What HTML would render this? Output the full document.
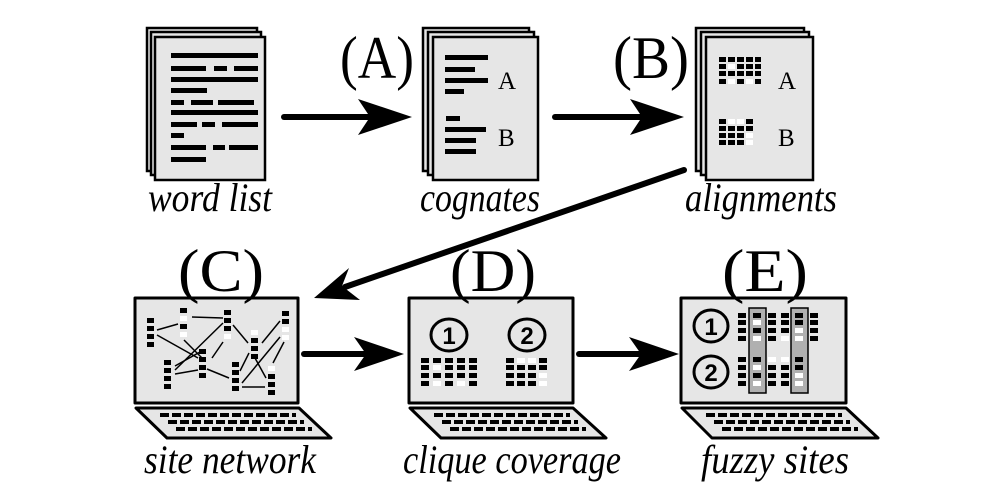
<!DOCTYPE html>
<html><head><meta charset="utf-8"><style>
html,body{margin:0;padding:0;background:#fff;}
svg{display:block;}
text{font-family:"Liberation Serif",serif;}
.lab{font-style:italic;font-size:40px;}
.big{font-size:60px;}
</style></head><body>
<svg width="995" height="486" viewBox="0 0 995 486" xmlns="http://www.w3.org/2000/svg">
<g stroke="#000" stroke-width="2.5" fill="#e6e6e6">
<rect x="147" y="28" width="110" height="143"/><rect x="151" y="32" width="110" height="143"/><rect x="155" y="37" width="110" height="143"/>
<rect x="423" y="28" width="106" height="143"/><rect x="428" y="32" width="106" height="143"/><rect x="433" y="37" width="105" height="143"/>
<rect x="696" y="28" width="108" height="143"/><rect x="701" y="32" width="108" height="143"/><rect x="706" y="37" width="107" height="143"/>
</g>
<g fill="#000">
<rect x="171" y="53" width="87" height="5"/>
<rect x="171" y="66" width="35" height="5"/><rect x="214" y="66" width="13" height="5"/><rect x="234" y="66" width="24" height="5"/>
<rect x="171" y="77" width="87" height="5"/>
<rect x="171" y="88" width="36" height="5"/>
<rect x="171" y="100" width="13" height="5"/><rect x="191" y="100" width="22" height="5"/><rect x="218" y="100" width="36" height="5"/>
<rect x="171" y="110" width="87" height="5"/>
<rect x="171" y="122" width="26" height="5"/><rect x="202" y="122" width="13" height="5"/><rect x="222" y="122" width="36" height="5"/>
<rect x="171" y="133" width="13" height="5"/>
<rect x="171" y="145" width="35" height="5"/><rect x="213" y="145" width="12" height="5"/><rect x="229" y="145" width="29" height="5"/>
<rect x="171" y="157" width="35" height="5"/>
<rect x="445" y="55" width="43" height="5"/><rect x="445" y="67" width="30" height="5"/><rect x="445" y="78" width="43" height="5"/><rect x="445" y="89" width="19" height="5"/>
<rect x="446" y="116" width="14" height="5"/><rect x="445" y="127" width="41" height="5"/><rect x="445" y="138" width="31" height="5"/><rect x="445" y="149" width="31" height="5"/>
</g>
<text x="498" y="89" font-size="25">A</text>
<text x="498" y="146" font-size="25">B</text>
<g fill="#000">
<rect x="719" y="57" width="7" height="5"/><rect x="728" y="57" width="7" height="5"/><rect x="737" y="57" width="7" height="5"/><rect x="746" y="57" width="7" height="5"/><rect x="755" y="57" width="6" height="5"/>
<rect x="719" y="64" width="7" height="5"/><rect x="728" y="64" width="7" height="5" fill="#fff"/><rect x="737" y="64" width="7" height="5"/><rect x="746" y="64" width="7" height="5"/><rect x="755" y="64" width="6" height="5"/>
<rect x="719" y="71" width="7" height="5"/><rect x="728" y="71" width="7" height="5"/><rect x="737" y="71" width="7" height="5"/><rect x="746" y="71" width="7" height="5"/><rect x="755" y="71" width="6" height="5"/>
<rect x="719" y="79" width="7" height="5"/><rect x="728" y="79" width="7" height="5" fill="#fff"/><rect x="737" y="79" width="7" height="5"/><rect x="746" y="79" width="7" height="5" fill="#fff"/><rect x="755" y="79" width="6" height="5"/>
<rect x="719" y="119" width="7" height="5"/><rect x="728" y="119" width="7" height="5" fill="#fff"/><rect x="737" y="119" width="7" height="5" fill="#fff"/><rect x="746" y="119" width="7" height="5"/>
<rect x="719" y="126" width="7" height="5"/><rect x="728" y="126" width="7" height="5"/><rect x="737" y="126" width="7" height="5"/><rect x="746" y="126" width="7" height="5"/>
<rect x="719" y="133" width="7" height="5"/><rect x="728" y="133" width="7" height="5"/><rect x="737" y="133" width="7" height="5"/><rect x="746" y="133" width="7" height="5" fill="#fff"/>
<rect x="719" y="140" width="7" height="5"/><rect x="728" y="140" width="7" height="5"/><rect x="737" y="140" width="7" height="5"/><rect x="746" y="140" width="7" height="5" fill="#fff"/>
</g>
<text x="778" y="89" font-size="25">A</text>
<text x="778" y="146" font-size="25">B</text>
<text class="lab" x="210" y="211" text-anchor="middle" textLength="124" lengthAdjust="spacingAndGlyphs">word list</text>
<text class="lab" x="480" y="211" text-anchor="middle" textLength="120" lengthAdjust="spacingAndGlyphs">cognates</text>
<text class="lab" x="761" y="211" text-anchor="middle" textLength="152" lengthAdjust="spacingAndGlyphs">alignments</text>
<text class="big" x="377" y="78" text-anchor="middle" textLength="74" lengthAdjust="spacingAndGlyphs">(A)</text>
<text class="big" x="651" y="78" text-anchor="middle" textLength="76" lengthAdjust="spacingAndGlyphs">(B)</text>
<g stroke="#000" stroke-width="6" stroke-linecap="round">
<line x1="284" y1="117" x2="372" y2="117"/>
<line x1="555" y1="117" x2="645" y2="117"/>
<line x1="684" y1="170" x2="345" y2="287"/>
<line x1="304" y1="354" x2="368" y2="354"/>
<line x1="579" y1="354" x2="642" y2="354"/>
</g>
<g fill="#000">
<polygon points="412,117 358,99 370,117 358,135"/>
<polygon points="684,117 630,99 642,117 630,135"/>
<polygon points="314,298 349,268 342,286 360,300"/>
<polygon points="404,354 354,337 366,354 354,371"/>
<polygon points="679,354 629,337 641,354 629,371"/>
</g>
<g stroke="#000" stroke-width="3" fill="#e6e6e6" stroke-linejoin="round">
<rect x="135" y="298" width="163" height="105"/>
<polygon points="136,408 299,408 331,438 167,438"/>
<rect x="409" y="298" width="164" height="105"/>
<polygon points="410,408 573,408 606,438 441,438"/>
<rect x="681" y="298" width="165" height="105"/>
<polygon points="682,408 846,408 878,438 712,438"/>
</g>
<g stroke="#000" stroke-width="4" stroke-dasharray="9 3">
<line x1="160" y1="415" x2="296" y2="415"/><line x1="168" y1="422" x2="304" y2="422"/><line x1="176" y1="429" x2="312" y2="429"/>
<line x1="434" y1="415" x2="570" y2="415"/><line x1="442" y1="422" x2="578" y2="422"/><line x1="450" y1="429" x2="586" y2="429"/>
<line x1="706" y1="415" x2="842" y2="415"/><line x1="714" y1="422" x2="850" y2="422"/><line x1="722" y1="429" x2="858" y2="429"/>
</g>
<g stroke="#000" stroke-width="1.5">
<line x1="157" y1="330" x2="178" y2="324"/><line x1="192" y1="317" x2="223" y2="318"/>
<line x1="157" y1="335" x2="198" y2="358"/><line x1="175" y1="370" x2="223" y2="323"/>
<line x1="175" y1="374" x2="198" y2="370"/><line x1="184" y1="340" x2="202" y2="358"/>
<line x1="175" y1="366" x2="200" y2="352"/><line x1="212" y1="358" x2="223" y2="342"/>
<line x1="207" y1="369" x2="229" y2="378"/><line x1="233" y1="325" x2="248" y2="343"/>
<line x1="240" y1="371" x2="249" y2="353"/><line x1="262" y1="343" x2="280" y2="321"/>
<line x1="242" y1="383" x2="280" y2="337"/><line x1="242" y1="387" x2="265" y2="387"/>
<line x1="255" y1="358" x2="266" y2="378"/><line x1="273" y1="363" x2="284" y2="342"/>
</g>
<g fill="#000">
<rect x="147" y="318" width="7" height="5"/><rect x="147" y="326" width="7" height="5"/><rect x="147" y="334" width="7" height="5"/><rect x="147" y="342" width="7" height="5"/>
<rect x="180" y="308" width="7" height="5"/><rect x="180" y="316" width="7" height="5" fill="#fff"/><rect x="180" y="324" width="7" height="5"/><rect x="180" y="332" width="7" height="5" fill="#fff"/>
<rect x="164" y="360" width="7" height="5"/><rect x="164" y="368" width="7" height="5"/><rect x="164" y="376" width="7" height="5"/><rect x="164" y="384" width="7" height="5"/>
<rect x="199" y="349" width="7" height="5"/><rect x="199" y="357" width="7" height="5"/><rect x="199" y="365" width="7" height="5"/><rect x="199" y="373" width="7" height="5"/>
<rect x="224" y="310" width="7" height="5"/><rect x="224" y="318" width="7" height="5"/><rect x="224" y="326" width="7" height="5"/><rect x="224" y="334" width="7" height="5" fill="#fff"/>
<rect x="251" y="330" width="7" height="5" fill="#fff"/><rect x="251" y="338" width="7" height="5"/><rect x="251" y="346" width="7" height="5"/><rect x="251" y="354" width="7" height="5"/>
<rect x="232" y="362" width="7" height="5"/><rect x="232" y="370" width="7" height="5"/><rect x="232" y="378" width="7" height="5"/><rect x="232" y="386" width="7" height="5"/>
<rect x="282" y="311" width="7" height="5"/><rect x="282" y="319" width="7" height="5"/><rect x="282" y="327" width="7" height="5" fill="#fff"/><rect x="282" y="335" width="7" height="5" fill="#fff"/>
<rect x="268" y="366" width="7" height="5" fill="#fff"/><rect x="268" y="374" width="7" height="5"/><rect x="268" y="382" width="7" height="5"/><rect x="268" y="390" width="7" height="5"/>
</g>
<g stroke="#000" stroke-width="3" fill="none">
<ellipse cx="449" cy="335" rx="18" ry="16"/><ellipse cx="527" cy="335" rx="18" ry="16"/>
<ellipse cx="711" cy="326" rx="17" ry="16"/><ellipse cx="711" cy="372" rx="17" ry="16"/>
</g>
<g font-weight="bold" font-size="24" text-anchor="middle">
<text x="449" y="344" style="font-family:'Liberation Sans',sans-serif">1</text>
<text x="527" y="344" style="font-family:'Liberation Sans',sans-serif">2</text>
<text x="711" y="335" style="font-family:'Liberation Sans',sans-serif">1</text>
<text x="711" y="381" style="font-family:'Liberation Sans',sans-serif">2</text>
</g>
<g fill="#000">
<rect x="421" y="358" width="8" height="5"/><rect x="433" y="358" width="8" height="5"/><rect x="445" y="358" width="8" height="5"/><rect x="457" y="358" width="8" height="5"/><rect x="469" y="358" width="8" height="5"/>
<rect x="421" y="365" width="8" height="5"/><rect x="433" y="365" width="8" height="5" fill="#fff"/><rect x="445" y="365" width="8" height="5"/><rect x="457" y="365" width="8" height="5"/><rect x="469" y="365" width="8" height="5"/>
<rect x="421" y="373" width="8" height="5"/><rect x="433" y="373" width="8" height="5"/><rect x="445" y="373" width="8" height="5"/><rect x="457" y="373" width="8" height="5"/><rect x="469" y="373" width="8" height="5"/>
<rect x="421" y="381" width="8" height="5"/><rect x="433" y="381" width="8" height="5" fill="#fff"/><rect x="445" y="381" width="8" height="5"/><rect x="457" y="381" width="8" height="5" fill="#fff"/><rect x="469" y="381" width="8" height="5"/>
<rect x="506" y="358" width="8" height="5"/><rect x="517" y="358" width="8" height="5" fill="#fff"/><rect x="528" y="358" width="8" height="5" fill="#fff"/><rect x="539" y="358" width="8" height="5"/>
<rect x="506" y="365" width="8" height="5"/><rect x="517" y="365" width="8" height="5"/><rect x="528" y="365" width="8" height="5"/><rect x="539" y="365" width="8" height="5"/>
<rect x="506" y="373" width="8" height="5"/><rect x="517" y="373" width="8" height="5"/><rect x="528" y="373" width="8" height="5"/><rect x="539" y="373" width="8" height="5" fill="#fff"/>
<rect x="506" y="381" width="8" height="5"/><rect x="517" y="381" width="8" height="5"/><rect x="528" y="381" width="8" height="5"/><rect x="539" y="381" width="8" height="5" fill="#fff"/>
</g>
<g stroke="#000" stroke-width="1.5" fill="#b0b0b0">
<rect x="749" y="308" width="17" height="85"/><rect x="791" y="308" width="17" height="85"/>
</g>
<g fill="#000">
<rect x="738" y="313" width="8" height="5"/><rect x="738" y="320" width="8" height="5"/><rect x="738" y="328" width="8" height="5"/><rect x="738" y="336" width="8" height="5"/>
<rect x="753" y="313" width="8" height="5"/><rect x="753" y="320" width="8" height="5" fill="#fff"/><rect x="753" y="328" width="8" height="5"/><rect x="753" y="336" width="8" height="5" fill="#fff"/>
<rect x="768" y="313" width="8" height="5"/><rect x="768" y="320" width="8" height="5"/><rect x="768" y="328" width="8" height="5"/><rect x="768" y="336" width="8" height="5"/>
<rect x="781" y="313" width="8" height="5"/><rect x="781" y="320" width="8" height="5"/><rect x="781" y="328" width="8" height="5"/><rect x="781" y="336" width="8" height="5" fill="#fff"/>
<rect x="795" y="313" width="8" height="5"/><rect x="795" y="320" width="8" height="5"/><rect x="795" y="328" width="8" height="5" fill="#fff"/><rect x="795" y="336" width="8" height="5" fill="#fff"/>
<rect x="810" y="313" width="8" height="5"/><rect x="810" y="320" width="8" height="5"/><rect x="810" y="328" width="8" height="5"/><rect x="810" y="336" width="8" height="5"/>
<rect x="738" y="357" width="8" height="5"/><rect x="738" y="365" width="8" height="5"/><rect x="738" y="373" width="8" height="5"/><rect x="738" y="381" width="8" height="5"/>
<rect x="753" y="357" width="8" height="5"/><rect x="753" y="365" width="8" height="5" fill="#fff"/><rect x="753" y="373" width="8" height="5"/><rect x="753" y="381" width="8" height="5" fill="#fff"/>
<rect x="768" y="357" width="8" height="5" fill="#fff"/><rect x="768" y="365" width="8" height="5"/><rect x="768" y="373" width="8" height="5"/><rect x="768" y="381" width="8" height="5"/>
<rect x="781" y="357" width="8" height="5" fill="#fff"/><rect x="781" y="365" width="8" height="5"/><rect x="781" y="373" width="8" height="5"/><rect x="781" y="381" width="8" height="5"/>
<rect x="795" y="357" width="8" height="5"/><rect x="795" y="365" width="8" height="5"/><rect x="795" y="373" width="8" height="5" fill="#fff"/><rect x="795" y="381" width="8" height="5" fill="#fff"/>
</g>
<text class="big" x="221" y="291" text-anchor="middle" textLength="86" lengthAdjust="spacingAndGlyphs">(C)</text>
<text class="big" x="493" y="291" text-anchor="middle" textLength="86" lengthAdjust="spacingAndGlyphs">(D)</text>
<text class="big" x="765" y="291" text-anchor="middle" textLength="86" lengthAdjust="spacingAndGlyphs">(E)</text>
<text class="lab" x="230" y="473" text-anchor="middle" textLength="172" lengthAdjust="spacingAndGlyphs">site network</text>
<text class="lab" x="512" y="473" text-anchor="middle" textLength="218" lengthAdjust="spacingAndGlyphs">clique coverage</text>
<text class="lab" x="775" y="473" text-anchor="middle" textLength="148" lengthAdjust="spacingAndGlyphs">fuzzy sites</text>
</svg>
</body></html>
